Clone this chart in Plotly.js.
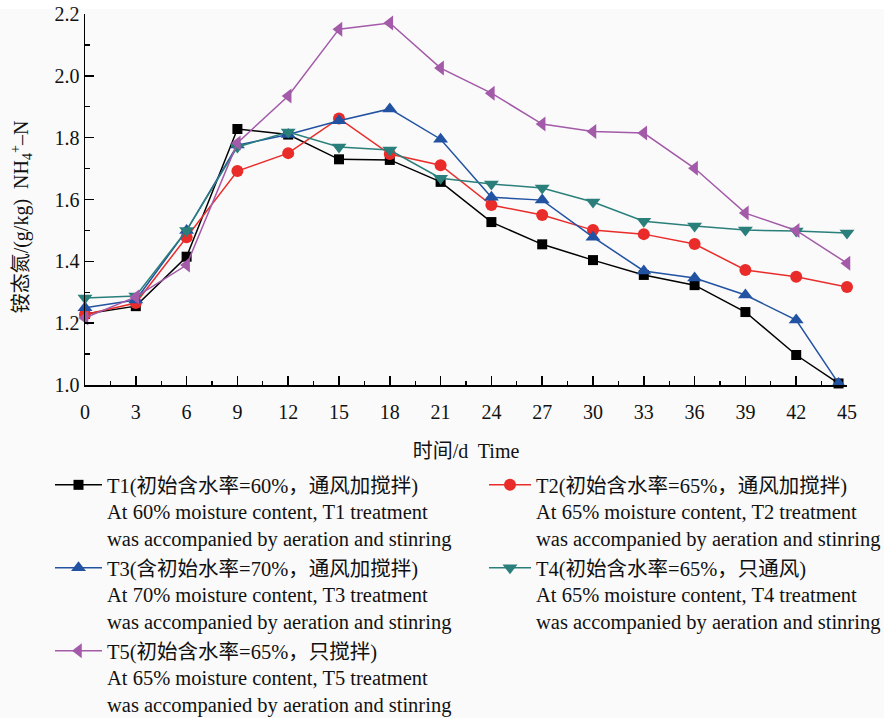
<!DOCTYPE html>
<html>
<head>
<meta charset="utf-8">
<script src="https://cdn.plot.ly/plotly-3.0.1.min.js"></script>
<style>
  html, body { margin: 0; padding: 0; background: #fafafa; }
  #chart { width: 884px; height: 718px; }
</style>
</head>
<body>
<div id="chart"></div>
<script>
// ---- data ----
const days = [0, 3, 6, 9, 12, 15, 18, 21, 24, 27, 30, 33, 36, 39, 42, 45];
const daysT1T3 = [0, 3, 6, 9, 12, 15, 18, 21, 24, 27, 30, 33, 36, 39, 42, 44.5];
const xTickVals = [0, 3, 6, 9, 12, 15, 18, 21, 24, 27, 30, 33, 36, 39, 42, 45];

const t1 = [1.23, 1.255, 1.415, 1.828, 1.81, 1.73, 1.728, 1.657, 1.527, 1.455, 1.404, 1.356, 1.323, 1.236, 1.097, 1.005];
const t2 = [1.228, 1.265, 1.478, 1.692, 1.75, 1.862, 1.747, 1.711, 1.582, 1.55, 1.501, 1.488, 1.456, 1.372, 1.35, 1.317];
const t3 = [1.25, 1.275, 1.50, 1.776, 1.81, 1.855, 1.893, 1.795, 1.607, 1.598, 1.478, 1.369, 1.346, 1.291, 1.21, 1.005];
const t4 = [1.281, 1.288, 1.50, 1.77, 1.818, 1.77, 1.76, 1.669, 1.65, 1.637, 1.592, 1.53, 1.514, 1.501, 1.498, 1.492];
const t5 = [1.217, 1.285, 1.388, 1.783, 1.935, 2.151, 2.171, 2.025, 1.944, 1.844, 1.82, 1.815, 1.701, 1.556, 1.50, 1.394];

const names = [
  "T1(初始含水率=60%，通风加搅拌)<br>At 60% moisture content, T1 treatment<br>was accompanied by aeration and stinring",
  "T2(初始含水率=65%，通风加搅拌)<br>At 65% moisture content, T2 treatment<br>was accompanied by aeration and stinring",
  "T3(含初始水率=70%，通风加搅拌)<br>At 70% moisture content, T3 treatment<br>was accompanied by aeration and stinring",
  "T4(初始含水率=65%，只通风)<br>At 65% moisture content, T4 treatment<br>was accompanied by aeration and stinring",
  "T5(初始含水率=65%，只搅拌)<br>At 65% moisture content, T5 treatment<br>was accompanied by aeration and stinring"
];
const xTitle = "时间/d  Time";
const yTitle = "铵态氮/(g/kg)  NH<sub>4</sub><sup>+</sup>–N&nbsp;&nbsp;&nbsp;&nbsp;&nbsp;&nbsp;&nbsp;";

// ---- styles ----
const colors = ["#000000", "#e92c2a", "#2252a2", "#2a7f7b", "#a35aa8"];
const symbols = ["square", "circle", "triangle-up", "triangle-down", "triangle-left"];
const sizes = [10, 12, 13, 13, 13];
const legendIds = ["legend", "legend2", "legend", "legend2", "legend"];
const FONT = "'Liberation Serif', 'Times New Roman', 'Noto Sans CJK SC', serif";

const xs = [daysT1T3, days, daysT1T3, days, days];
const ys = [t1, t2, t3, t4, t5];

const traces = ys.map((y, i) => ({
  type: "scatter",
  mode: "lines+markers",
  x: xs[i],
  y: y,
  name: names[i],
  legend: legendIds[i],
  line: { color: colors[i], width: 1.5 },
  marker: { symbol: symbols[i], size: sizes[i], color: colors[i] },
  cliponaxis: false
}));

const legendBase = {
  orientation: "h",
  xref: "container",
  yref: "container",
  y: 1 - 465 / 718,
  xanchor: "left",
  yanchor: "top",
  entrywidth: 420,
  entrywidthmode: "pixels",
  itemwidth: 47,
  valign: "top",
  bgcolor: "rgba(0,0,0,0)",
  font: { family: FONT, size: 20.5, color: "#111" },
  traceorder: "normal"
};

const layout = {
  width: 884,
  height: 718,
  paper_bgcolor: "#fafafa",
  plot_bgcolor: "#fafafa",
  font: { family: FONT, size: 20, color: "#111" },
  margin: { l: 85, r: 37, t: 14, b: 333 },
  showlegend: true,
  shapes: [{
    type: "rect", layer: "below", xref: "paper", yref: "paper",
    x0: -85 / 762, x1: 1 + 37 / 762, y0: 1 + 5 / 371, y1: 1 + 14 / 371,
    fillcolor: "#ffffff", line: { width: 0 }
  }],
  xaxis: {
    range: [0, 45],
    tickvals: xTickVals,
    ticks: "inside",
    ticklen: 9,
    tickwidth: 1.5,
    tickcolor: "#000",
    minor: { dtick: 1.5, ticks: "inside", ticklen: 4, tickwidth: 1.2, tickcolor: "#000" },
    showline: true,
    linecolor: "#000",
    linewidth: 1.5,
    showgrid: false,
    zeroline: false,
    ticklabelstandoff: 8,
    tickfont: { family: FONT, size: 20 },
    title: { text: xTitle, font: { family: FONT, size: 20 }, standoff: 22 }
  },
  yaxis: {
    range: [1.0, 2.2],
    dtick: 0.2,
    tick0: 1.0,
    tickformat: ".1f",
    ticks: "inside",
    ticklen: 9,
    tickwidth: 1.5,
    tickcolor: "#000",
    minor: { dtick: 0.1, ticks: "inside", ticklen: 5, tickwidth: 1.2, tickcolor: "#000" },
    showline: true,
    linecolor: "#000",
    linewidth: 1.5,
    showgrid: false,
    zeroline: false,
    tickfont: { family: FONT, size: 20 },
    title: { text: yTitle, font: { family: FONT, size: 20 }, standoff: 20 }
  },
  legend: Object.assign({}, legendBase, { x: 50 / 884 }),
  legend2: Object.assign({}, legendBase, { x: 484 / 884, itemwidth: 42 })
};

Plotly.newPlot("chart", traces, layout, { displayModeBar: false, staticPlot: true });
</script>
</body>
</html>
